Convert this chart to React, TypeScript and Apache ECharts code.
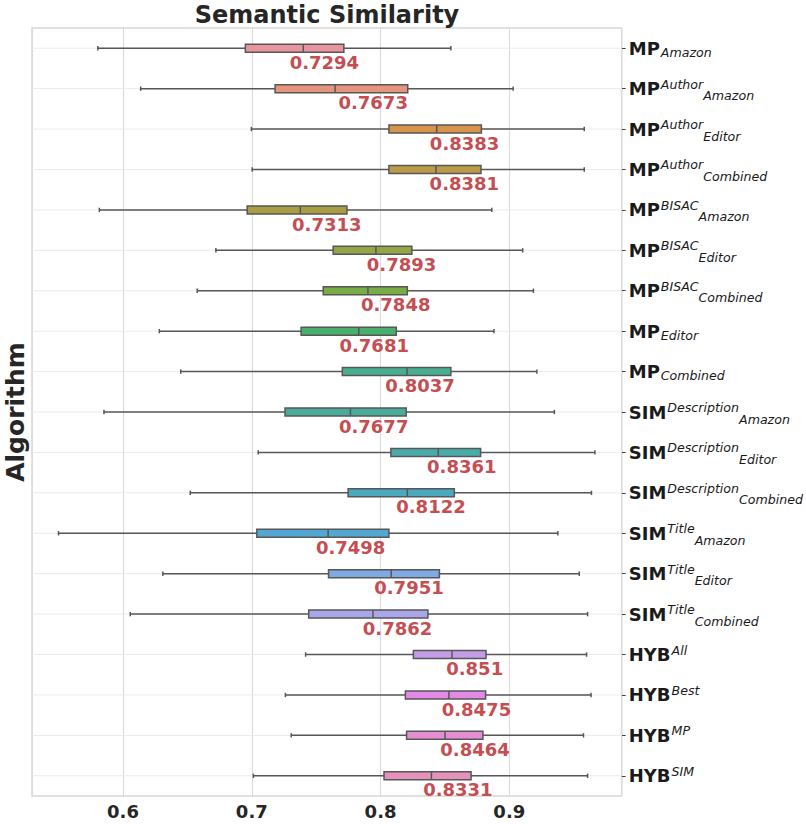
import React, { useEffect, useRef } from "react";
import * as echarts from "echarts";

const categoryBase = ["MP", "MP", "MP", "MP", "MP", "MP", "MP", "MP", "MP", "SIM", "SIM", "SIM", "SIM", "SIM", "SIM", "HYB", "HYB", "HYB", "HYB"];
const categorySup = ["", "Author", "Author", "Author", "BISAC", "BISAC", "BISAC", "", "", "Description", "Description", "Description", "Title", "Title", "Title", "All", "Best", "MP", "SIM"];
const categorySub = ["Amazon", "Amazon", "Editor", "Combined", "Amazon", "Editor", "Combined", "Editor", "Combined", "Amazon", "Editor", "Combined", "Amazon", "Editor", "Combined", "", "", "", ""];

const whiskerLow = [0.5804, 0.6137, 0.6997, 0.7003, 0.5816, 0.6721, 0.6576, 0.6282, 0.6448, 0.5852, 0.705, 0.6522, 0.5499, 0.6309, 0.6056, 0.7418, 0.7261, 0.7306, 0.7012];
const q1 = [0.695, 0.7181, 0.8065, 0.8065, 0.6964, 0.7632, 0.7555, 0.7383, 0.7703, 0.7258, 0.808, 0.7748, 0.7039, 0.7596, 0.7442, 0.8255, 0.8193, 0.8202, 0.8027];
const median = [0.740, 0.7647, 0.8436, 0.843, 0.7377, 0.7964, 0.7902, 0.7831, 0.8205, 0.7766, 0.8448, 0.8208, 0.7593, 0.8083, 0.7941, 0.8555, 0.8531, 0.8501, 0.8395];
const q3 = [0.7715, 0.8211, 0.8783, 0.878, 0.7739, 0.8243, 0.8208, 0.8122, 0.8546, 0.8199, 0.8777, 0.8573, 0.8065, 0.8457, 0.8368, 0.8819, 0.8816, 0.8795, 0.8703];
const whiskerHigh = [0.8546, 0.903, 0.9582, 0.9582, 0.8864, 0.9104, 0.9187, 0.8881, 0.9214, 0.935, 0.9665, 0.9638, 0.9377, 0.9543, 0.9608, 0.96, 0.9635, 0.9576, 0.9608];
const means = [0.7294, 0.7673, 0.8383, 0.8381, 0.7313, 0.7893, 0.7848, 0.7681, 0.8037, 0.7677, 0.8361, 0.8122, 0.7498, 0.7951, 0.7862, 0.851, 0.8475, 0.8464, 0.8331];

const boxColors = [
  "#e8959f", "#e5957e", "#d5944a", "#bb9a48", "#a89c45", "#93a645", "#78ad45", "#46b06c", "#47ae8f", "#4aab9a",
  "#4aabab", "#4ca9bd", "#52a8d2", "#7ea9e3", "#a9a7ea", "#c49de8", "#e28ae6", "#e48fd3", "#e592ba",
];

const xTickValues = [0.6, 0.7, 0.8, 0.9];

const FONT = "DejaVu Sans";

export default function App() {
  const ref = useRef<HTMLDivElement>(null);

  useEffect(() => {
    if (!ref.current) return;
    const chart = echarts.init(ref.current, undefined, { renderer: "svg" });

    const labels = categoryBase.map((b, i) => {
      const sup = categorySup[i];
      const sub = categorySub[i];
      let s = `{b|${b}}`;
      if (sup) s += `{sup|${sup}}`;
      if (sub) s += sup ? `{sub|${sub}}` : `{sub1|${sub}}`;
      return s;
    });

    const data = categoryBase.map((_, i) => [i, whiskerLow[i], q1[i], median[i], q3[i], whiskerHigh[i], means[i]]);

    const edge = "#575757";

    const option: any = {
      animation: false,
      backgroundColor: "#ffffff",
      grid: {
        left: 32,
        right: 184,
        top: 28,
        bottom: 28,
        show: true,
        borderColor: "#d6d6d6",
        borderWidth: 1.5,
        backgroundColor: "transparent",
      },
      graphic: [
        {
          type: "text",
          x: 327,
          y: 15,
          style: {
            text: "Semantic Similarity",
            font: `bold 24px "${FONT}"`,
            fill: "#262626",
            textAlign: "center",
            textVerticalAlign: "middle",
          },
        },
        {
          type: "text",
          x: 15,
          y: 412,
          rotation: Math.PI / 2,
          style: {
            text: "Algorithm",
            font: `bold 25px "${FONT}"`,
            fill: "#262626",
            textAlign: "center",
            textVerticalAlign: "middle",
          },
        },
      ],
      xAxis: {
        type: "value",
        min: 0.5293,
        max: 0.9873,
        splitNumber: 5,
        axisLine: { show: false },
        axisTick: { show: false },
        axisLabel: {
          showMinLabel: false,
          showMaxLabel: false,
          margin: 6,
          fontFamily: FONT,
          fontWeight: "bold",
          fontSize: 18,
          color: "#262626",
          formatter: (v: number) => {
            const hit = xTickValues.find((t) => Math.abs(t - v) < 1e-6);
            return hit !== undefined ? hit.toFixed(1) : "";
          },
        },
        splitLine: { show: true, lineStyle: { color: "#dcdcdc", width: 1.2 } },
      },
      yAxis: {
        type: "category",
        data: labels,
        inverse: true,
        position: "right",
        axisLine: { show: false },
        axisTick: { show: true, alignWithLabel: true, length: 4, lineStyle: { color: "#444", width: 1 } },
        splitLine: { show: false },
        axisLabel: {
          margin: 7,
          color: "#1a1a1a",
          rich: {
            b: { fontFamily: FONT, fontWeight: "bold", fontSize: 18, color: "#1a1a1a" },
            sup: { fontFamily: FONT, fontStyle: "italic", fontSize: 12.6, color: "#1a1a1a", padding: [0, 0, 9, 1] },
            sub: { fontFamily: FONT, fontStyle: "italic", fontSize: 12.6, color: "#1a1a1a", padding: [14, 0, 0, 0] },
            sub1: { fontFamily: FONT, fontStyle: "italic", fontSize: 12.6, color: "#1a1a1a", padding: [8, 0, 0, 1] },
          },
        },
      },
      series: [
        {
          type: "custom",
          encode: { x: [1, 2, 3, 4, 5, 6], y: 0 },
          data,
          clip: false,
          renderItem: (params: any, api: any) => {
            const idx = api.value(0);
            const pMin = api.coord([api.value(1), idx]);
            const pQ1 = api.coord([api.value(2), idx]);
            const pMed = api.coord([api.value(3), idx]);
            const pQ3 = api.coord([api.value(4), idx]);
            const pMax = api.coord([api.value(5), idx]);
            const pMean = api.coord([api.value(6), idx]);
            const band = api.size([0, 1])[1];
            const y = pMin[1];
            const h = 8;
            const cap = 2.2;
            const cs = params.coordSys;
            const lw = 1.5;
            return {
              type: "group",
              children: [
                {
                  type: "line",
                  shape: { x1: cs.x, y1: y, x2: cs.x + cs.width, y2: y },
                  style: { stroke: "#ebebeb", lineWidth: 1 },
                },
                {
                  type: "line",
                  shape: { x1: pMin[0], y1: y, x2: pQ1[0], y2: y },
                  style: { stroke: edge, lineWidth: lw },
                },
                {
                  type: "line",
                  shape: { x1: pQ3[0], y1: y, x2: pMax[0], y2: y },
                  style: { stroke: edge, lineWidth: lw },
                },
                {
                  type: "line",
                  shape: { x1: pMin[0], y1: y - cap, x2: pMin[0], y2: y + cap },
                  style: { stroke: edge, lineWidth: lw },
                },
                {
                  type: "line",
                  shape: { x1: pMax[0], y1: y - cap, x2: pMax[0], y2: y + cap },
                  style: { stroke: edge, lineWidth: lw },
                },
                {
                  type: "rect",
                  shape: { x: pQ1[0], y: y - h / 2, width: pQ3[0] - pQ1[0], height: h },
                  style: { fill: boxColors[idx], stroke: edge, lineWidth: lw },
                },
                {
                  type: "line",
                  shape: { x1: pMed[0], y1: y - h / 2, x2: pMed[0], y2: y + h / 2 },
                  style: { stroke: edge, lineWidth: lw },
                },
                {
                  type: "text",
                  x: pMean[0],
                  y: y + band * 0.35,
                  style: {
                    text: String(means[idx]),
                    font: `bold 18px "${FONT}"`,
                    fill: "#c44e52",
                    textAlign: "left",
                    textVerticalAlign: "middle",
                  },
                },
              ],
            };
          },
        },
      ],
    };

    chart.setOption(option);
    return () => chart.dispose();
  }, []);

  return (
    <div
      ref={ref}
      style={{ position: "absolute", left: 0, top: 0, width: 806, height: 824 }}
    />
  );
}
